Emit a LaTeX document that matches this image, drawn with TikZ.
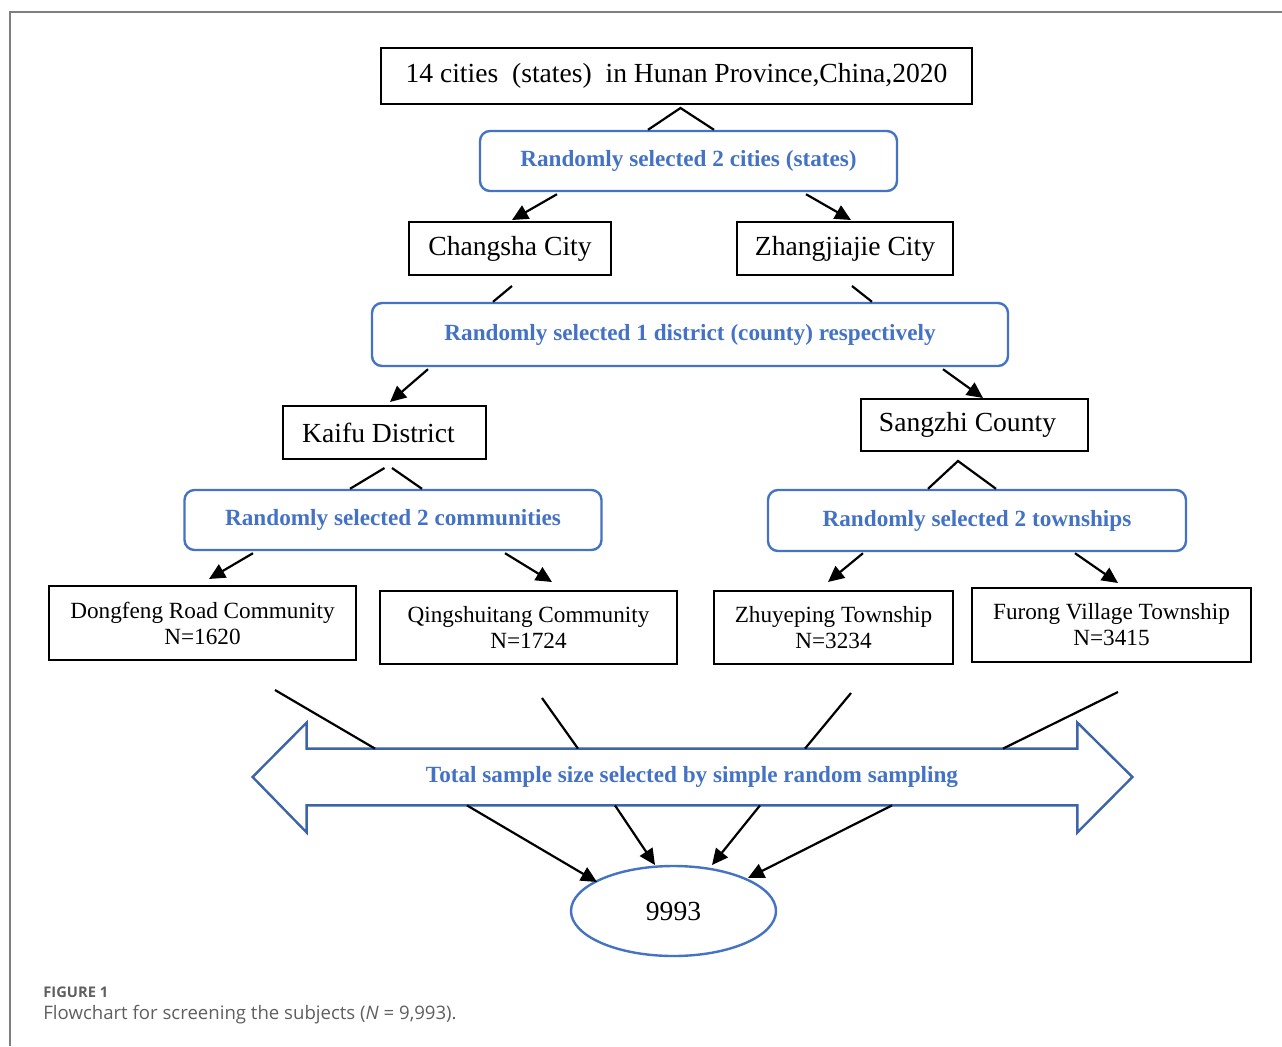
\documentclass[tikz,border=0pt]{standalone}
\usepackage{fontspec}
\setmainfont{Liberation Serif}
\newfontfamily\capfont{Open Sans}
\usetikzlibrary{arrows.meta,positioning,calc,shapes.geometric}
\definecolor{pickblue}{HTML}{4472C4}
\definecolor{arrowblue}{HTML}{3C64A8}
\definecolor{capgray}{HTML}{5F5F5F}

\begin{document}
\begin{tikzpicture}[x=0.5pt,y=-0.5pt,
    box/.style={draw,line width=1pt,inner sep=0pt,align=center,font=\fontsize{13.8}{15}\selectfont},
    unit/.style={box,font=\fontsize{11.6}{13}\selectfont},
    pick/.style={draw=pickblue,line width=1.2pt,rounded corners=5pt,text=pickblue,inner sep=0pt,
      minimum height=30pt,font=\fontsize{11.6}{13}\bfseries\selectfont},
    link/.style={line width=1.1pt},
    arr/.style={link,-{Triangle[length=8pt,width=7.5pt]}}]
  \useasboundingbox (0,0) rectangle (1282,1046);
  % frame
  \draw[capgray!80,line width=0.8pt] (1282,12) -- (10,12) -- (10,1046);
  % levels of the sampling
  \node[box,minimum width=295.5pt,minimum height=28pt] (hunan) at (676.5,76)
    {14 cities\enspace(states)\enspace in Hunan Province,China,2020};
  \node[pick,minimum width=208.5pt] (pickA) at (688.5,161) {Randomly selected 2 cities (states)};
  \node[box,minimum width=101pt,minimum height=26.5pt] (chang) at (510,248.5) {Changsha City};
  \node[box,minimum width=108pt,minimum height=26.5pt] (zhang) at (845,248.5) {Zhangjiajie City};
  \node[pick,minimum width=318pt,minimum height=31.5pt] (pickB) at (690,334.5)
    {Randomly selected 1 district (county) respectively};
  \node[box,minimum width=101.5pt,minimum height=26.5pt] (kaifu) at (384.5,432.5) {Kaifu District\hspace{6pt}};
  \node[box,minimum width=113.5pt,minimum height=26pt] (sangzhi) at (974.5,425) {Sangzhi County\hspace{7pt}};
  \node[pick,minimum width=208.5pt] (pickC) at (393,520) {Randomly selected 2 communities};
  \node[pick,minimum width=209pt,minimum height=30.5pt] (pickD) at (977,520.5) {Randomly selected 2 townships};
  \node[unit,minimum width=153.5pt,minimum height=37pt] (dong) at (202.5,623) {Dongfeng Road Community\\N=1620};
  \node[unit,minimum width=148.5pt,minimum height=36.5pt] (qing) at (528.5,627.5) {Qingshuitang Community\\N=1724};
  \node[unit,minimum width=119.5pt,minimum height=36.5pt] (zhuye) at (833.5,627.5) {Zhuyeping Township\\N=3234};
  \node[unit,minimum width=139.5pt,minimum height=37pt] (furong) at (1111.5,625) {Furong Village Township\\N=3415};
  % the double arrow
  \node[text=pickblue,inner sep=0pt,minimum width=385pt,minimum height=28pt,
    font=\fontsize{11.6}{13}\bfseries\selectfont] (total) at (692,777)
    {Total sample size selected by simple random sampling};
  \draw[arrowblue,line width=1.2pt] (total.north west) -- (total.north east) -- ++(0,-26)
    -- ($(total.east)+(55,0)$) -- ($(total.south east)+(0,27)$) -- (total.south east)
    -- (total.south west) -- ++(0,27) -- ($(total.west)+(-54,0)$)
    -- ($(total.north west)+(0,-26)$) -- cycle;
  \node[ellipse,draw=pickblue,line width=1.2pt,minimum width=102.5pt,minimum height=45pt,
    font=\fontsize{13.8}{15}\selectfont] (sum) at (673.5,911) {9993};
  % connectors
  \draw[link] ($(pickA.north)+(-40.5,0)$) -- ($(hunan.south)+(4,3)$) -- ($(pickA.north)+(25.5,0)$);
  \draw[arr] ($(pickA.south)+(-131.5,2)$) -- ($(chang.north)+(2,-1)$);
  \draw[arr] ($(pickA.south)+(117.5,2)$) -- ($(zhang.north)+(6,-1)$);
  \draw[link] ($(chang.south)+(2,10)$) -- ($(pickB.north)+(-197,0)$);
  \draw[link] ($(zhang.south)+(7,10)$) -- ($(pickB.north)+(182,0)$);
  \draw[arr] ($(pickB.south)+(-262,2)$) -- ($(kaifu.north)+(5.5,-3)$);
  \draw[arr] ($(pickB.south)+(253,2)$) -- ($(sangzhi.north)+(8.5,0)$);
  \draw[link] ($(kaifu.south)+(0,8)$) -- ($(pickC.north)+(-43,0)$);
  \draw[link] ($(kaifu.south)+(7.5,8)$) -- ($(pickC.north)+(29,0)$);
  \draw[link] ($(pickD.north)+(-49,0)$) -- ($(sangzhi.south)+(-16.5,9)$) -- ($(pickD.north)+(19,0)$);
  \draw[arr] ($(pickC.south)+(-140,2)$) -- ($(dong.north)+(6.5,-6)$);
  \draw[arr] ($(pickC.south)+(112,2)$) -- ($(qing.north)+(23.5,-8)$);
  \draw[arr] ($(pickD.south)+(-114,1)$) -- ($(zhuye.north)+(-5.5,-8)$);
  \draw[arr] ($(pickD.south)+(98,1)$) -- ($(furong.north)+(6.5,-4)$);
  \foreach \n/\dx/\dy/\ex in {dong/72.5/29/-317, qing/13.5/33/-114, zhuye/17.5/28/113, furong/6.5/29/311}
    \draw[link] ($(\n.south)+(\dx,\dy)$) -- ($(total.north)+(\ex,0)$);
  \foreach \sx/\ex/\ey in {-225/-76.5/-29, -77/-18.5/-46, 68/38.5/-46, 200/74.5/-33}
    \draw[arr] ($(total.south)+(\sx,0)$) -- ($(sum.center)+(\ex,\ey)$);
  % caption
  \node[anchor=west,inner sep=0pt,text=capgray,font=\capfont\fontsize{7.35}{8}\bfseries\selectfont] (fig) at (43,992) {FIGURE 1};
  \node[anchor=west,inner sep=0pt,text=capgray,font=\capfont\fontsize{9.3}{10}\selectfont] (cap) at (43,1015)
    {Flowchart for screening the subjects (\textit{N} = 9,993).};
\end{tikzpicture}
\end{document}
